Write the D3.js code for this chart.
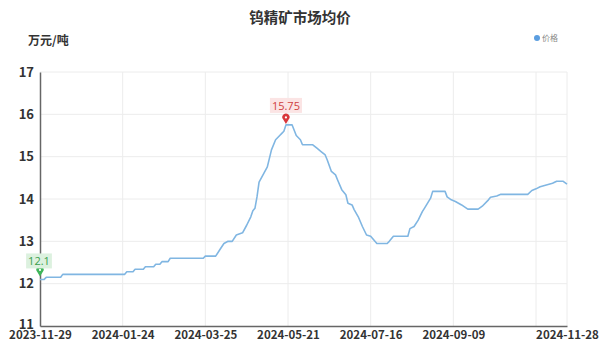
<!DOCTYPE html>
<html>
<head>
<meta charset="utf-8">
<script src="https://cdn.jsdelivr.net/npm/d3@7"></script>
<style>
  html, body { margin: 0; padding: 0; background: #fff; }
  svg { display: block; font-family: "Noto Sans CJK SC", "Open Sans", sans-serif; }
</style>
</head>
<body>
<svg id="chart" width="599" height="342"></svg>
<script>
// Tungsten concentrate average market price (10k CNY / tonne), by trading day
const dayIndex = [0, 2, 3, 10, 11, 41, 42, 45, 46, 50, 51, 55, 56, 58, 59, 62, 63, 79, 80, 85,
  87, 89, 91, 93, 95, 98, 100, 102, 103, 104, 105, 106, 110, 112, 114, 116, 117, 118, 119, 122,
  124, 126, 127, 132, 134, 136, 138, 139, 141, 143, 144, 146, 148, 149, 151, 152, 154, 156, 158, 160,
  163, 168, 169, 171, 178, 179, 181, 183, 185, 186, 189, 190, 196, 197, 199, 201, 204, 207, 212, 214,
  217, 218, 221, 223, 236, 238, 240, 242, 245, 248, 250, 253, 255];
const price = [12.10, 12.10, 12.15, 12.15, 12.22, 12.22, 12.28, 12.28, 12.34, 12.34, 12.40, 12.40, 12.46, 12.46, 12.52, 12.52, 12.60, 12.60, 12.65, 12.65,
  12.80, 12.95, 13.00, 13.00, 13.15, 13.20, 13.38, 13.58, 13.72, 13.78, 14.05, 14.40, 14.76, 15.16, 15.40, 15.50, 15.55, 15.60, 15.75, 15.75,
  15.50, 15.40, 15.28, 15.28, 15.20, 15.12, 15.04, 14.92, 14.65, 14.57, 14.45, 14.22, 14.10, 13.90, 13.86, 13.75, 13.58, 13.35, 13.15, 13.12,
  12.95, 12.95, 13.00, 13.12, 13.12, 13.30, 13.35, 13.50, 13.70, 13.78, 14.02, 14.18, 14.18, 14.05, 13.98, 13.94, 13.86, 13.76, 13.76, 13.83,
  13.98, 14.04, 14.07, 14.11, 14.11, 14.20, 14.24, 14.29, 14.33, 14.37, 14.42, 14.42, 14.35];

const lastIndex = 255;
const gridIndex = [0, 40, 80, 120, 160, 200, 240, 255];
const tickIndex = [0, 40, 80, 120, 160, 200, 255];
const tickLabels = ["2023-11-29", "2024-01-24", "2024-03-25", "2024-05-21", "2024-07-16", "2024-09-09", "2024-11-28"];
const yTicks = [11, 12, 13, 14, 15, 16, 17];

const svg = d3.select("#chart");
const plot = { left: 40, right: 567, top: 72, bottom: 326 };

const x = d3.scaleLinear().domain([0, lastIndex]).range([plot.left, plot.right]);
const y = d3.scaleLinear().domain([11, 17]).range([plot.bottom, plot.top]);

// title & unit
svg.append("text").attr("x", 300).attr("y", 23).attr("text-anchor", "middle")
  .attr("font-size", 14.5).attr("font-weight", "bold").attr("fill", "#333").text("钨精矿市场均价");
svg.append("text").attr("x", 28).attr("y", 45)
  .attr("font-size", 12).attr("font-weight", "bold").attr("fill", "#333").text("万元/吨");

// legend
svg.append("circle").attr("cx", 537).attr("cy", 38).attr("r", 3).attr("fill", "#5b9ee0");
svg.append("text").attr("x", 542).attr("y", 41).attr("font-size", 8).attr("fill", "#888").text("价格");

// grid
svg.append("g").selectAll("line").data(yTicks.filter(d => d > 11)).join("line")
  .attr("x1", plot.left).attr("x2", plot.right).attr("y1", d => y(d)).attr("y2", d => y(d))
  .attr("stroke", "#ececec").attr("stroke-width", 1);
svg.append("g").selectAll("line").data(gridIndex.filter(d => d > 0)).join("line")
  .attr("x1", d => x(d)).attr("x2", d => x(d)).attr("y1", plot.top).attr("y2", plot.bottom)
  .attr("stroke", "#ececec").attr("stroke-width", 1);

// axes
const yAxis = d3.axisLeft(y).tickValues(yTicks).tickSize(0).tickPadding(6).tickFormat(d3.format("d"));
const gy = svg.append("g").attr("transform", `translate(${plot.left},0)`).call(yAxis);
gy.select(".domain").attr("stroke", "#666").attr("stroke-width", 1.5);
gy.selectAll("text").attr("font-size", 13).attr("font-weight", "bold").attr("fill", "#333")
  .attr("font-family", "\"Noto Sans CJK SC\", sans-serif")
  .attr("dy", d => d === 11 ? "0.2em" : "0.32em");

const xAxis = d3.axisBottom(x).tickValues(tickIndex).tickSize(0).tickPadding(5)
  .tickFormat((d, i) => tickLabels[i]);
const gx = svg.append("g").attr("transform", `translate(0,${plot.bottom})`).call(xAxis);
gx.select(".domain").attr("stroke", "#666").attr("stroke-width", 1.5);
gx.selectAll("text").attr("font-size", 11.5).attr("font-weight", "bold").attr("fill", "#333")
  .attr("font-family", "\"Noto Sans CJK SC\", sans-serif");

// price line
const pts = dayIndex.map((d, i) => [d, price[i]]);
const line = d3.line().x(d => x(d[0])).y(d => y(d[1]));
svg.append("path").datum(pts).attr("d", line)
  .attr("fill", "none").attr("stroke", "#80b6e2").attr("stroke-width", 1.6)
  .attr("stroke-linejoin", "round");

// max / min markers
function pin(g, cx, cy, color) {
  const r = 3.6, h = 6.5;
  g.append("path")
    .attr("d", `M${cx},${cy} L${cx - r * 0.75},${cy - h + r * 0.6} A${r},${r} 0 1 1 ${cx + r * 0.75},${cy - h + r * 0.6} Z`)
    .attr("fill", color);
  g.append("circle").attr("cx", cx).attr("cy", cy - h).attr("r", 1.1).attr("fill", "#fff");
}
function markLabel(g, cx, cy, text, bg, fg) {
  const t = g.append("text").attr("x", cx).attr("y", cy).attr("text-anchor", "middle")
    .attr("font-size", 11).attr("fill", fg).text(text)
    .attr("font-family", "\"Open Sans\", sans-serif");
  const b = t.node().getBBox();
  g.insert("rect", "text").attr("x", b.x - 2).attr("y", b.y).attr("width", b.width + 4).attr("height", b.height)
    .attr("fill", bg);
}

const maxI = d3.maxIndex(price), minI = d3.minIndex(price);
const mg = svg.append("g");
pin(mg, x(dayIndex[maxI]), y(price[maxI]) - 1, "#d9373b");
markLabel(mg, x(dayIndex[maxI]), y(price[maxI]) - 15, String(price[maxI]), "#fbe4e4", "#cf4040");
const ng = svg.append("g");
pin(ng, x(dayIndex[minI]), y(price[minI]) - 3, "#3fb55a");
markLabel(ng, x(dayIndex[minI]) - 1, y(price[minI]) - 14, String(price[minI]), "#dcf1df", "#3a9e4c");
</script>
</body>
</html>
